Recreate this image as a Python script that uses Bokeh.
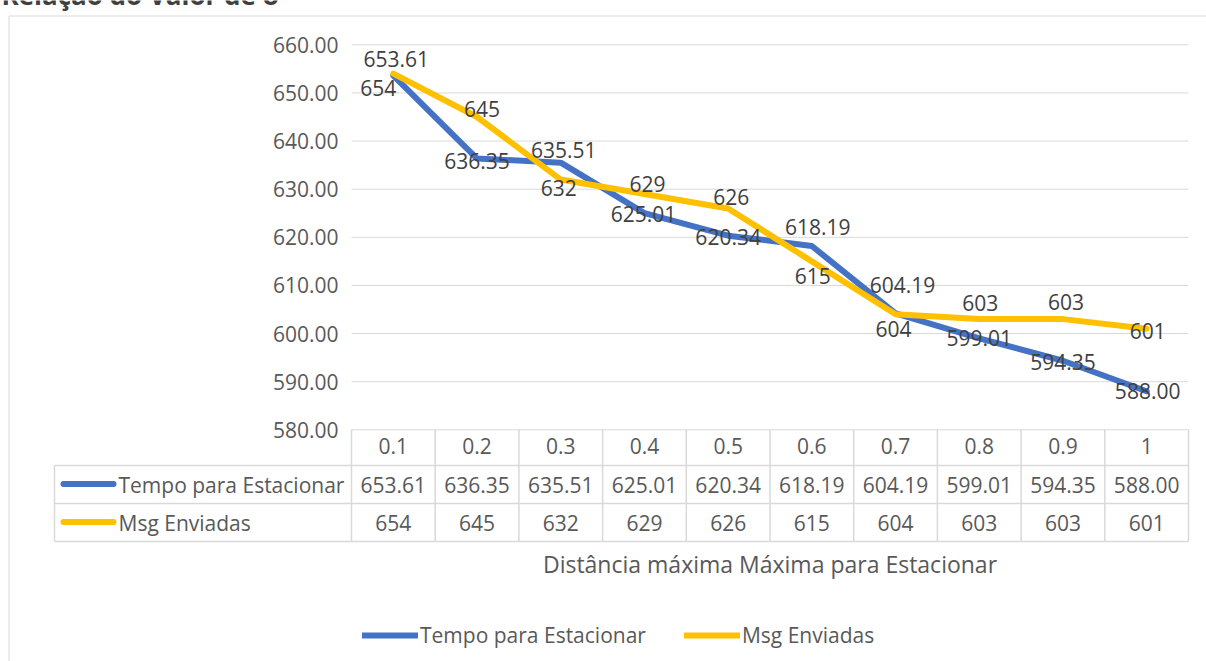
from bokeh.plotting import figure
from bokeh.models import (Range1d, LinearAxis, FixedTicker, ColumnDataSource,
                          Legend, LegendItem)
from bokeh.core.properties import value
from bokeh.embed import file_html
from bokeh.resources import INLINE

# ---------------- data ----------------
categories = ["0.1", "0.2", "0.3", "0.4", "0.5", "0.6", "0.7", "0.8", "0.9", "1"]
tempo = [653.61, 636.35, 635.51, 625.01, 620.34, 618.19, 604.19, 599.01, 594.35, 588.00]
msgs = [654, 645, 632, 629, 626, 615, 604, 603, 603, 601]
y_ticks = [580, 590, 600, 610, 620, 630, 640, 650, 660]
y_tick_labels = ["580.00", "590.00", "600.00", "610.00", "620.00",
                 "630.00", "640.00", "650.00", "660.00"]
series_names = ["Tempo para Estacionar", "Msg Enviadas"]
title_text = "Relação do Valor de δ"
x_title = "Distância máxima Máxima para Estacionar"

# ---------------- layout / style ----------------
W, H = 1206, 661
X0 = 351.0          # pixel of the first column's left edge
COL = 83.7          # pixel width of one category column
Y_TOP_PX = 44.3     # pixel of the top tick
PX_PER = 4.8125     # pixels per value unit
FONT_NAME = "Open Sans"
FONT = value(FONT_NAME)
FS = "21px"
BLUE, YELLOW = "#4472C4", "#FFC000"
GRID = "#D9D9D9"
TXT = "#595959"
LBL = "#404040"

n = len(categories)
ymax = y_ticks[-1]
x_start, x_end = -X0 / COL, (W - X0) / COL
y_end = ymax + Y_TOP_PX / PX_PER
y_start = ymax - (H - Y_TOP_PX) / PX_PER

p = figure(width=W, height=H, output_backend="svg", toolbar_location=None, tools="",
           x_range=Range1d(x_start, x_end), y_range=Range1d(y_start, y_end),
           x_axis_type=None, y_axis_type=None)
p.min_border = 0
p.min_border_left = p.min_border_right = p.min_border_top = p.min_border_bottom = 0
p.outline_line_color = None
p.background_fill_color = "white"
p.border_fill_color = "white"
p.extra_x_ranges = {"px": Range1d(0, W)}
p.extra_y_ranges = {"py": Range1d(H, 0)}

# chart border (decoration)
p.line(x=[8.5, 8.5, W], y=[H, 15.5, 15.5], x_range_name="px", y_range_name="py",
       line_color=GRID, line_width=1)

# title: only its lower edge shows at the top of the picture, as in the reference
p.text(x=[1], y=[-6], text=[title_text], x_range_name="px", y_range_name="py",
       text_font=FONT, text_font_size="26px", text_font_style="bold",
       text_color=LBL, text_align="left", text_baseline="alphabetic")

# gridlines
p.segment(x0=[0] * len(y_ticks), x1=[n] * len(y_ticks), y0=y_ticks, y1=y_ticks,
          line_color=GRID, line_width=1)

# y axis
yax = LinearAxis(fixed_location=0, ticker=FixedTicker(ticks=y_ticks),
                 major_label_overrides={t: l for t, l in zip(y_ticks, y_tick_labels)},
                 axis_line_color=None, major_tick_line_color=None,
                 minor_tick_line_color=None, major_label_standoff=7,
                 major_label_text_font=FONT_NAME, major_label_text_font_size=FS,
                 major_label_text_color=TXT)
p.add_layout(yax, "left")

# x axis (table header + title)
xc = [i + 0.5 for i in range(n)]
xax = LinearAxis(fixed_location=y_ticks[0], ticker=FixedTicker(ticks=xc),
                 major_label_overrides={x: c for x, c in zip(xc, categories)},
                 bounds=(0, n), axis_line_color=None, major_tick_line_color=None,
                 minor_tick_line_color=None, major_label_standoff=2,
                 major_label_text_font=FONT_NAME, major_label_text_font_size=FS,
                 major_label_text_color=TXT,
                 axis_label=x_title, axis_label_standoff=91,
                 axis_label_text_font=FONT_NAME, axis_label_text_font_size="23px",
                 axis_label_text_font_style="normal", axis_label_text_color=TXT)
p.add_layout(xax, "below")

# data table grid
HDR_TOP, ROW1, ROW2, ROW_END = 429, 465, 503, 541
TBL_LEFT = 54
TBL_RIGHT = X0 + n * COL
p.segment(x0=list(range(n + 1)), x1=list(range(n + 1)),
          y0=[HDR_TOP] * (n + 1), y1=[ROW_END] * (n + 1),
          y_range_name="py", line_color=GRID, line_width=1.5)
p.segment(x0=[TBL_LEFT] * 4, x1=[TBL_LEFT, TBL_RIGHT, TBL_RIGHT, TBL_RIGHT],
          y0=[ROW1, ROW1, ROW2, ROW_END], y1=[ROW_END, ROW1, ROW2, ROW_END],
          x_range_name="px", y_range_name="py", line_color=GRID, line_width=1.5)

# table values
r1y, r2y = (ROW1 + ROW2) / 2 + 0.5, (ROW2 + ROW_END) / 2 + 0.5
p.text(x=xc, y=[r1y] * n, text=[f"{v:.2f}" for v in tempo], y_range_name="py",
       text_font=FONT, text_font_size=FS, text_color=TXT,
       text_align="center", text_baseline="middle")
p.text(x=xc, y=[r2y] * n, text=[str(v) for v in msgs], y_range_name="py",
       text_font=FONT, text_font_size=FS, text_color=TXT,
       text_align="center", text_baseline="middle")
# table legend keys
p.segment(x0=[63, 63], x1=[113, 113], y0=[r1y - 1, r2y - 1], y1=[r1y - 1, r2y - 1],
          x_range_name="px", y_range_name="py", line_color=[BLUE, YELLOW],
          line_width=6, line_cap="round")
p.text(x=[118, 118], y=[r1y, r2y], text=series_names, x_range_name="px",
       y_range_name="py", text_font=FONT, text_font_size=FS, text_color=TXT,
       text_align="left", text_baseline="middle")

# series lines
src = ColumnDataSource(dict(x=xc, tempo=tempo, msgs=msgs,
                            tl=[f"{v:.2f}" for v in tempo], ml=[str(v) for v in msgs]))
r_blue = p.line("x", "tempo", source=src, line_color=BLUE, line_width=6,
                line_join="round", line_cap="round")
r_yel = p.line("x", "msgs", source=src, line_color=YELLOW, line_width=6,
               line_join="round", line_cap="round")

# data labels (offsets in pixels)
blue_dx = [3, 0, 3, -1, 0, 6, 7, 0, 0, 1]
blue_dy = [-17, 2, -13, 1, 1, -19, -28, 0, 1, 0]
yel_dx = [-15, 5, -2, 3, 3, 1, -2, 1, 3, 1]
yel_dy = [14, -8, 8, -10, -11, 15, 15, -16, -17, 2]
src.data.update(bdx=blue_dx, bdy=blue_dy, ydx=yel_dx, ydy=yel_dy)
p.text(x="x", y="tempo", text="tl", x_offset="bdx", y_offset="bdy", source=src,
       text_font=FONT, text_font_size=FS, text_color=LBL,
       text_align="center", text_baseline="middle")
p.text(x="x", y="msgs", text="ml", x_offset="ydx", y_offset="ydy", source=src,
       text_font=FONT, text_font_size=FS, text_color=LBL,
       text_align="center", text_baseline="middle")

# bottom legend
legend = Legend(items=[LegendItem(label=series_names[0], renderers=[r_blue]),
                       LegendItem(label=series_names[1], renderers=[r_yel])],
                orientation="horizontal", location=(362, 12),
                glyph_width=56, glyph_height=20, label_height=20,
                label_standoff=2, spacing=38, padding=0, margin=0,
                border_line_alpha=0, background_fill_alpha=0,
                label_text_font=FONT_NAME, label_text_font_size=FS,
                label_text_color=TXT)
p.add_layout(legend)

open("out.html", "w").write(file_html(p, INLINE))
